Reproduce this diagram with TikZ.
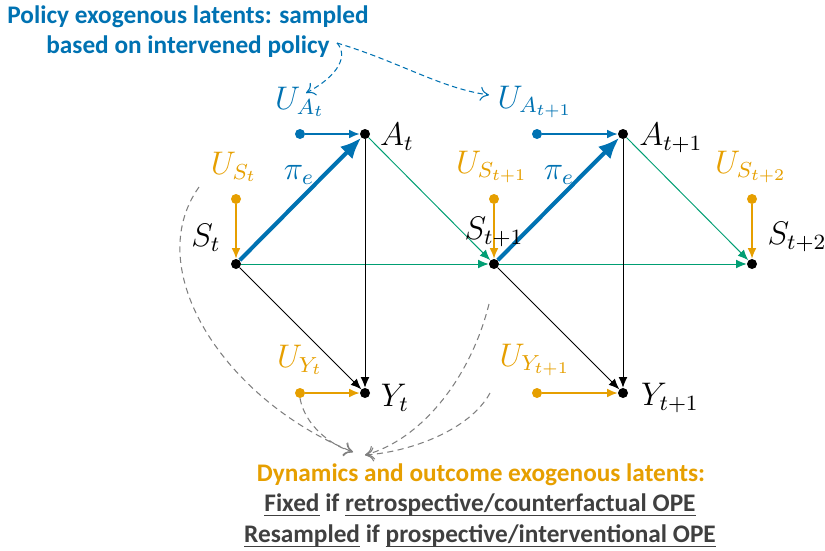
\documentclass[tikz,border=0pt]{standalone}
\usepackage{fontspec}
\setmainfont{Carlito}
\usetikzlibrary{arrows.meta}
\definecolor{cblue}{HTML}{0072B2}
\definecolor{corange}{HTML}{E69F00}
\definecolor{cgreen}{HTML}{009E73}
\definecolor{cgray}{HTML}{404040}
\definecolor{dgray}{HTML}{7F7F7F}
\newcommand\myul[1]{\leavevmode\setbox0\hbox{#1}\rlap{\rule[-2.6pt]{\wd0}{0.9pt}}\box0\relax}
\newcommand\mth[1]{\scalebox{1.55}{$#1$}}
\begin{document}
\begin{tikzpicture}[x=0.02cm,y=-0.02cm,
  dot/.style={circle,fill,inner sep=0pt,minimum size=0.2cm},
  mlab/.style={font=\fontsize{12}{14}\selectfont,inner sep=0pt},
  txt/.style={font=\fontsize{14.4}{17}\selectfont\bfseries,inner sep=0pt,align=center},
  blk/.style={draw=black,line width=0.5pt,-{Latex[length=6pt,width=5pt]}},
  grn/.style={draw=cgreen,line width=0.55pt,-{Latex[length=6pt,width=5pt]}},
  orn/.style={draw=corange,line width=0.8pt,-{Latex[length=6pt,width=5pt]}},
  blu/.style={draw=cblue,line width=0.8pt,-{Latex[length=6pt,width=5pt]}},
  pol/.style={draw=cblue,line width=2.3pt,-{Latex[length=12pt,width=10pt]}},
  gdash/.style={draw=dgray,line width=0.6pt,dash pattern=on 3.5pt off 2.5pt,-{To[length=5pt,width=8pt]}},
  bdash/.style={draw=cblue,line width=0.6pt,dash pattern=on 3pt off 2pt,-{To[length=5pt,width=8pt]}}]
\useasboundingbox (0,0) rectangle (825,551);
% dots
\node[dot] (St) at (236,264) {};
\node[dot] (At) at (365,134) {};
\node[dot] (Yt) at (365,393) {};
\node[dot] (St1) at (494,264) {};
\node[dot] (At1) at (623,134) {};
\node[dot] (Yt1) at (623,393) {};
\node[dot] (St2) at (752,264) {};
\node[dot,cblue] (UAt) at (300,134) {};
\node[dot,cblue] (UAt1) at (537,134) {};
\node[dot,corange] (USt) at (236,199) {};
\node[dot,corange] (USt1) at (494,199) {};
\node[dot,corange] (USt2) at (752,199) {};
\node[dot,corange] (UYt) at (300,393) {};
\node[dot,corange] (UYt1) at (537,393) {};
% edges
\draw[grn] (St) -- (St1);
\draw[grn] (At) -- (St1);
\draw[grn] (St1) -- (St2);
\draw[grn] (At1) -- (St2);
\draw[blk] (St) -- (Yt);
\draw[blk] (At) -- (Yt);
\draw[blk] (St1) -- (Yt1);
\draw[blk] (At1) -- (Yt1);
\draw[orn] (USt) -- (St);
\draw[orn] (USt1) -- (St1);
\draw[orn] (USt2) -- (St2);
\draw[orn] (UYt) -- (Yt);
\draw[orn] (UYt1) -- (Yt1);
\draw[blu] (UAt) -- (At);
\draw[blu] (UAt1) -- (At1);
\draw[pol] (St) -- (At);
\draw[pol] (St1) -- (At1);
% labels
\node[mlab] (lSt) at (206,238) {\mth{S_t}};
\node[mlab] (lAt) at (397,137) {\mth{A_t}};
\node[mlab] (lYt) at (395,398) {\mth{Y_t}};
\node[mlab] (lSt1) at (494,232) {\mth{S_{t+1}}};
\node[mlab] (lAt1) at (671,138) {\mth{A_{t+1}}};
\node[mlab] (lYt1) at (670,398) {\mth{Y_{t+1}}};
\node[mlab] (lSt2) at (797,237) {\mth{S_{t+2}}};
\node[mlab,cblue] (lUAt) at (300,102) {\mth{U_{A_t}}};
\node[mlab,cblue] (lUAt1) at (535,102) {\mth{U_{A_{t+1}}}};
\node[mlab,corange] (lUSt) at (234,167) {\mth{U_{S_t}}};
\node[mlab,corange] (lUSt1) at (492,167) {\mth{U_{S_{t+1}}}};
\node[mlab,corange] (lUSt2) at (751,167) {\mth{U_{S_{t+2}}}};
\node[mlab,corange] (lUYt) at (300,360) {\mth{U_{Y_t}}};
\node[mlab,corange] (lUYt1) at (535,360) {\mth{U_{Y_{t+1}}}};
\node[mlab,cblue] (pi1) at (299,175) {\mth{\pi_e}};
\node[mlab,cblue] (pi2) at (559,175) {\mth{\pi_e}};
% texts
\node[txt,cblue] (top) at (188,32) {Policy exogenous latents: sampled\\based on intervened policy};
\node[txt,corange] (d1) at (481,475) {Dynamics and outcome exogenous latents:};
\node[txt,cgray] (d2) at (480,505) {\myul{Fixed} if \myul{retrospective/counterfactual OPE}};
\node[txt,cgray] (d3) at (480,536) {\myul{Resampled} if \myul{prospective/interventional OPE}};
% blue dashed
\coordinate (bs) at (337,43);
\coordinate (bt1) at (306,93);
\coordinate (bt2) at (489,95);
\draw[bdash] (bs) .. controls (348,55) and (340,75) .. (bt1);
\draw[bdash] (bs) .. controls (400,62) and (440,88) .. (bt2);
% gray dashed
\coordinate (g1) at (199,187);
\coordinate (g3) at (489,304);
\coordinate (g4) at (490,393);
\coordinate (tipL) at (353,452);
\coordinate (tipR) at (365,455);
\draw[gdash] (g1) .. controls (140,270) and (225,400) .. (tipL);
\draw[gdash] (UYt.south) .. controls (305,425) and (330,445) .. (tipL);
\draw[gdash] (g3) .. controls (470,380) and (420,440) .. (tipR);
\draw[gdash] (g4) .. controls (470,430) and (410,452) .. (tipR);
\end{tikzpicture}
\end{document}
